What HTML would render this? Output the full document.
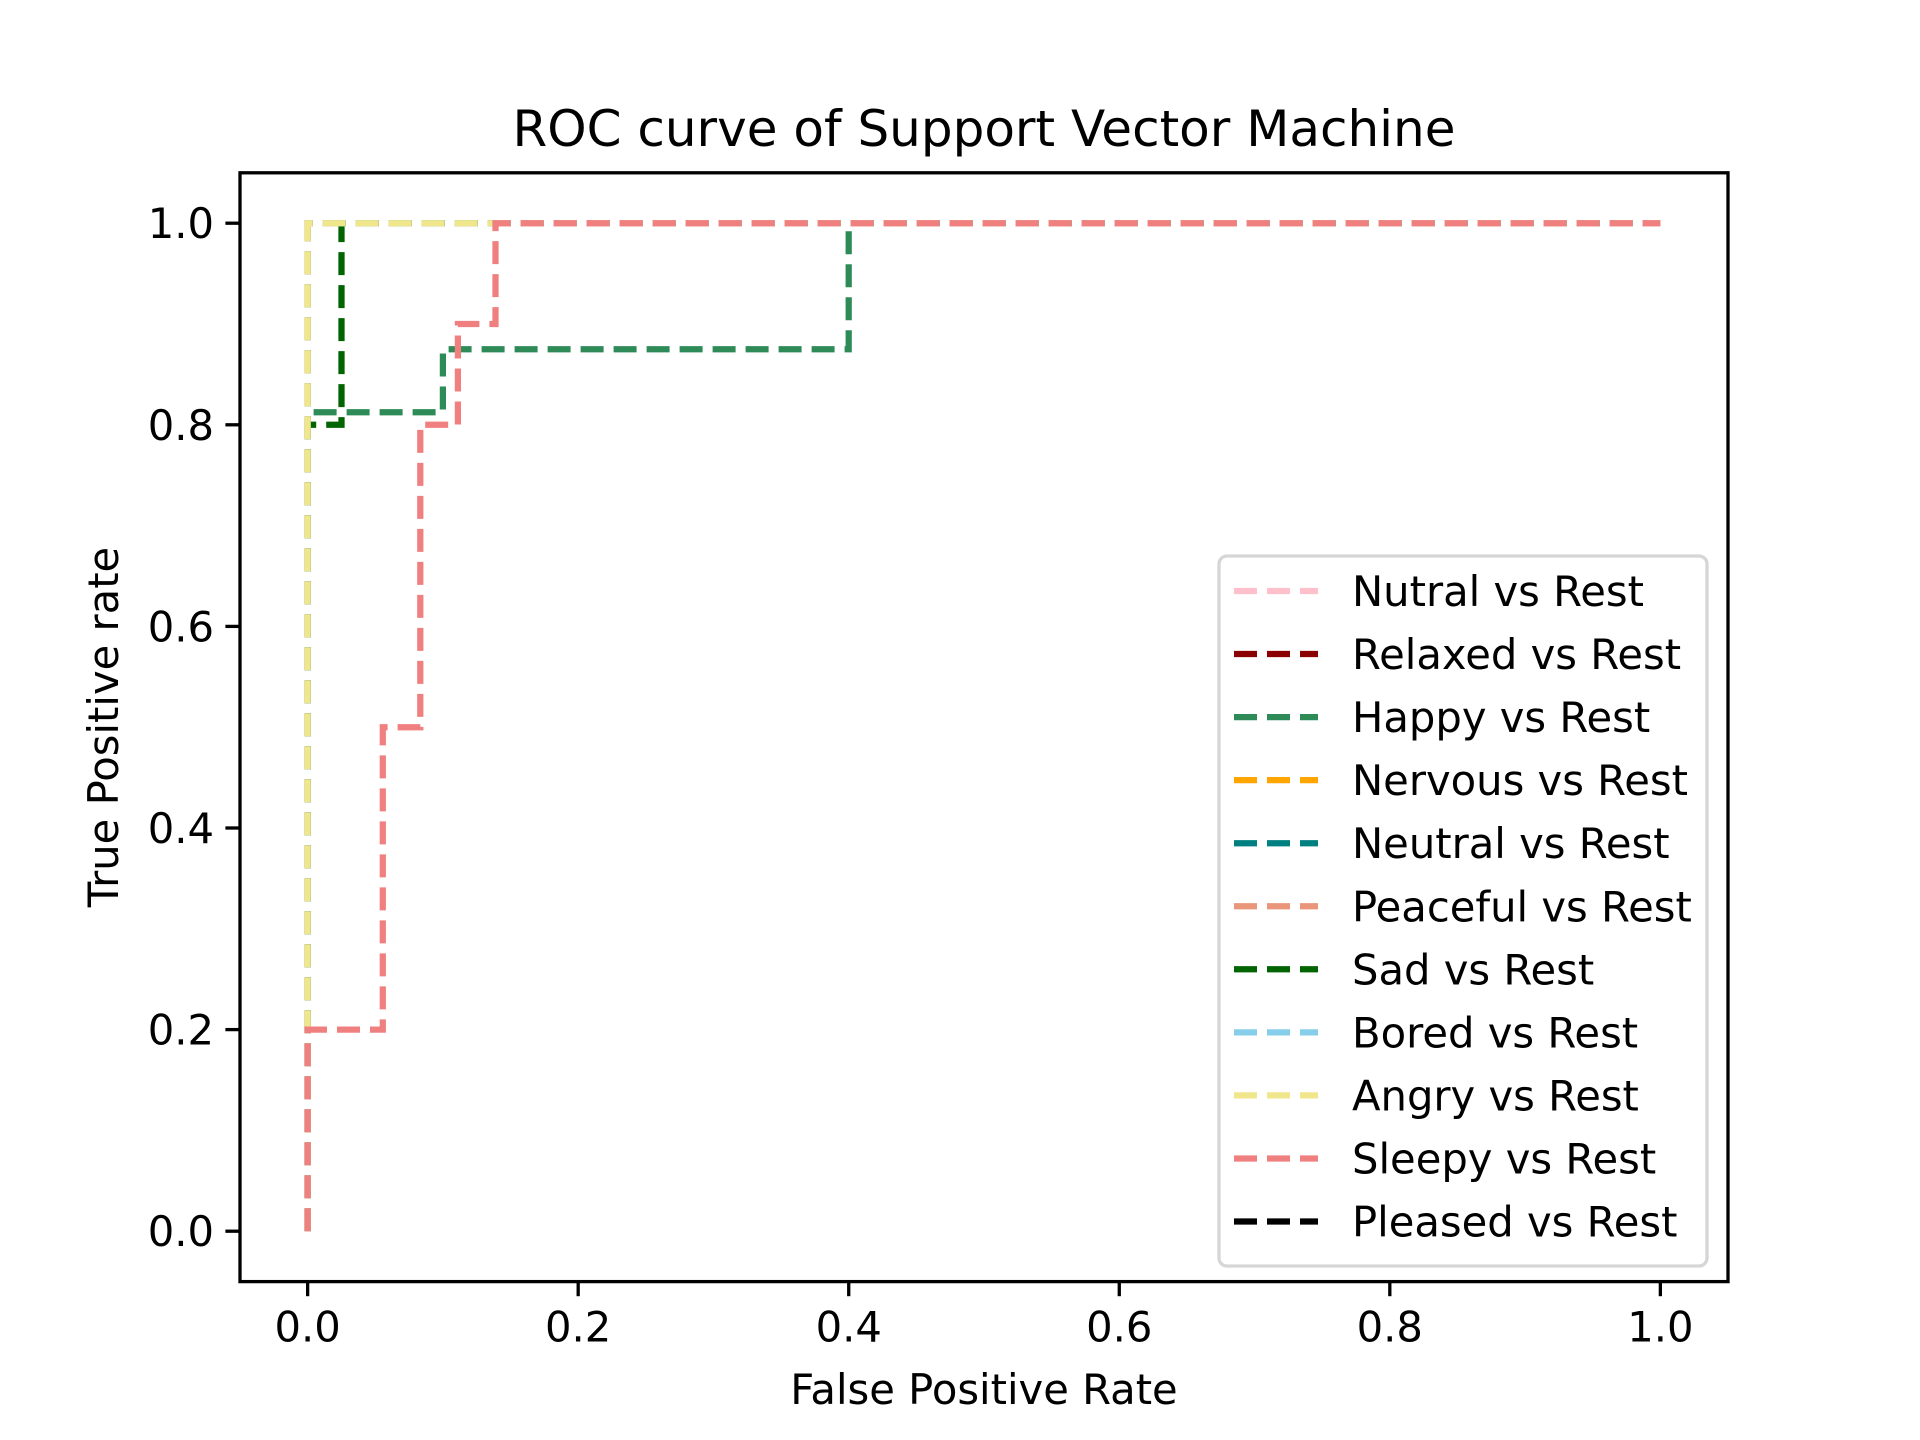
<!DOCTYPE html>
<html><head><meta charset="utf-8"><style>
html,body{margin:0;padding:0;background:#fff;}
svg{display:block;font-family:"DejaVu Sans","Liberation Sans",sans-serif;}
</style></head><body>
<svg id="chart" width="1920" height="1440" viewBox="0 0 1920 1440" xmlns="http://www.w3.org/2000/svg">
<rect width="1920" height="1440" fill="#fff"/>
<text x="984" y="146" font-size="50" text-anchor="middle">ROC curve of Support Vector Machine</text>
<g id="plot"></g>
<rect x="240" y="172.8" width="1488" height="1108.8" fill="none" stroke="#000" stroke-width="3.3"/>
<g id="ticks"></g>
<text x="984" y="1404" font-size="41.7" text-anchor="middle">False Positive Rate</text>
<text transform="translate(118,727) rotate(-90)" font-size="41.7" text-anchor="middle">True Positive rate</text>
<g id="legend"></g>
</svg>
<script>
const seriesNames = ["Nutral vs Rest","Relaxed vs Rest","Happy vs Rest","Nervous vs Rest","Neutral vs Rest","Peaceful vs Rest","Sad vs Rest","Bored vs Rest","Angry vs Rest","Sleepy vs Rest","Pleased vs Rest"];
const seriesColors = ["pink","darkred","seagreen","orange","teal","darksalmon","darkgreen","skyblue","khaki","lightcoral","black"];
const fprNutral = [0,0,1], tprNutral = [0,1,1];
const fprRelaxed = [0,0,1], tprRelaxed = [0,1,1];
const fprHappy = [0,0,0.1,0.1,0.4,0.4,1], tprHappy = [0,0.8125,0.8125,0.875,0.875,1,1];
const fprNervous = [0,0,1], tprNervous = [0,1,1];
const fprNeutral = [0,0,1], tprNeutral = [0,1,1];
const fprPeaceful = [0,0,1], tprPeaceful = [0,1,1];
const fprSad = [0,0,0.025,0.025,1], tprSad = [0,0.8,0.8,1,1];
const fprBored = [0,0,1], tprBored = [0,1,1];
const fprAngry = [0,0,1], tprAngry = [0,1,1];
const fprSleepy = [0,0,0.0556,0.0556,0.0833,0.0833,0.1111,0.1111,0.1389,0.1389,1], tprSleepy = [0,0.2,0.2,0.5,0.5,0.8,0.8,0.9,0.9,1,1];
const fprPleased = [], tprPleased = [];
const xTicks = [0,0.2,0.4,0.6,0.8,1.0];
const yTicks = [0,0.2,0.4,0.6,0.8,1.0];
const tickLabels = ["0.0","0.2","0.4","0.6","0.8","1.0"];

const FPR=[fprNutral,fprRelaxed,fprHappy,fprNervous,fprNeutral,fprPeaceful,fprSad,fprBored,fprAngry,fprSleepy,fprPleased];
const TPR=[tprNutral,tprRelaxed,tprHappy,tprNervous,tprNeutral,tprPeaceful,tprSad,tprBored,tprAngry,tprSleepy,tprPleased];
const L=240,R=1728,T=172.8,B=1281.6;
const sx=v=>L+(v+0.05)/1.1*(R-L);
const sy=v=>B-(v+0.05)/1.1*(B-T);
const NS="http://www.w3.org/2000/svg";
function mk(tag,attrs,parent){const e=document.createElementNS(NS,tag);for(const k in attrs)e.setAttribute(k,attrs[k]);parent.appendChild(e);return e;}
const plot=document.getElementById('plot');
FPR.forEach((xs,i)=>{
  if(!xs.length) return;
  const pts=xs.map((x,j)=>sx(x).toFixed(1)+','+sy(TPR[i][j]).toFixed(1)).join(' ');
  const p=mk('polyline',{points:pts,fill:'none',stroke:seriesColors[i],'stroke-width':6.25,'stroke-dasharray':'23 10'},plot);
  
  
});
const ticks=document.getElementById('ticks');


xTicks.forEach((v,i)=>{
  const l=mk('line',{x1:sx(v),x2:sx(v),y1:B,y2:B+14.6,stroke:'#000','stroke-width':3.3},ticks);
  
  
  const t=mk('text',{x:sx(v),y:B+60,'font-size':41.7,'text-anchor':'middle'},ticks);
  t.textContent=tickLabels[i];
  
  
});
yTicks.forEach((v,i)=>{
  const l=mk('line',{x1:L-14.6,x2:L,y1:sy(v),y2:sy(v),stroke:'#000','stroke-width':3.3},ticks);
  
  
  const t=mk('text',{x:L-26,y:sy(v)+15,'font-size':41.7,'text-anchor':'end'},ticks);
  t.textContent=tickLabels[i];
  
  
});
const lg=document.getElementById('legend');
const fr=mk('rect',{x:1219,y:556,width:488,height:710,rx:8,fill:'#fff','fill-opacity':0.8,stroke:'#d6d6d6','stroke-width':3.3},lg);


seriesNames.forEach((n,i)=>{
  const y=591+i*63.05;
  const l=mk('line',{x1:1234,x2:1318,y1:y,y2:y,stroke:seriesColors[i],'stroke-width':6.25,'stroke-dasharray':'23 10'},lg);
  
  
  const t=mk('text',{x:1352,y:y+15,'font-size':41.7},lg);
  t.textContent=n;
  
  
});
</script>
</body></html>
